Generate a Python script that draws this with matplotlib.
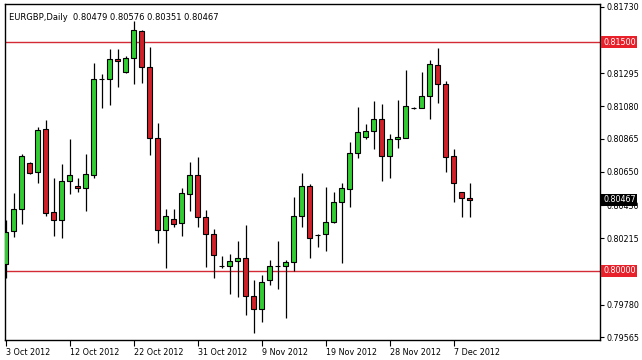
import matplotlib
matplotlib.use("Agg")
import matplotlib.pyplot as plt
import pandas as pd
import numpy as np

symbol = "EURGBP,Daily"
opens = [0.80044, 0.80260, 0.80404, 0.80709, 0.80647, 0.80930, 0.80385, 0.80332, 0.80588, 0.80557,
         0.80542, 0.80627, 0.81256, 0.81256, 0.81387, 0.81305, 0.81393, 0.81572, 0.81334, 0.80869,
         0.80267, 0.80339, 0.80313, 0.80504, 0.80627, 0.80352, 0.80240, 0.80033, 0.80035, 0.80064,
         0.80083, 0.79834, 0.79749, 0.79939, 0.80035, 0.80035, 0.80057, 0.80358, 0.80557, 0.80236,
         0.80240, 0.80319, 0.80454, 0.80535, 0.80771, 0.80876, 0.80915, 0.80998, 0.80751, 0.80863,
         0.80873, 0.81068, 0.81070, 0.81144, 0.81347, 0.81223, 0.80751, 0.80516, 0.80479]
highs = [0.80334, 0.80513, 0.80766, 0.80716, 0.80941, 0.80991, 0.80609, 0.80701, 0.80865, 0.80609,
         0.80766, 0.81364, 0.81290, 0.81452, 0.81452, 0.81408, 0.81640, 0.81580, 0.81465, 0.80968,
         0.80404, 0.80404, 0.80542, 0.80712, 0.80747, 0.80400, 0.80273, 0.80096, 0.80109, 0.80199,
         0.80299, 0.79941, 0.79974, 0.80072, 0.80197, 0.80072, 0.80485, 0.80642, 0.80570, 0.80240,
         0.80548, 0.80516, 0.80574, 0.80843, 0.81072, 0.80961, 0.81114, 0.81092, 0.80896, 0.81120,
         0.81317, 0.81072, 0.81302, 0.81382, 0.81461, 0.81243, 0.80797, 0.80520, 0.80576]
lows = [0.79954, 0.80221, 0.80308, 0.80635, 0.80578, 0.80362, 0.80231, 0.80218, 0.80506, 0.80519,
        0.80395, 0.80611, 0.81070, 0.81087, 0.81207, 0.81295, 0.81223, 0.81233, 0.80760, 0.80185,
        0.80018, 0.80290, 0.80231, 0.80395, 0.80286, 0.80026, 0.79956, 0.80018, 0.79849, 0.79832,
        0.79712, 0.79592, 0.79668, 0.79908, 0.79880, 0.79694, 0.80002, 0.80288, 0.80087, 0.80159,
        0.80133, 0.80313, 0.80054, 0.80421, 0.80738, 0.80863, 0.80801, 0.80591, 0.80611, 0.80808,
        0.80869, 0.81063, 0.81066, 0.80996, 0.81102, 0.80650, 0.80454, 0.80356, 0.80351]
closes = [0.80258, 0.80404, 0.80753, 0.80644, 0.80924, 0.80382, 0.80332, 0.80588, 0.80629, 0.80542,
          0.80633, 0.81256, 0.81256, 0.81387, 0.81374, 0.81393, 0.81579, 0.81334, 0.80869, 0.80269,
          0.80358, 0.80310, 0.80509, 0.80627, 0.80352, 0.80240, 0.80103, 0.80033, 0.80064, 0.80083,
          0.79834, 0.79749, 0.79930, 0.80035, 0.80035, 0.80057, 0.80358, 0.80557, 0.80214, 0.80236,
          0.80319, 0.80454, 0.80542, 0.80771, 0.80909, 0.80915, 0.80998, 0.80751, 0.80863, 0.80878,
          0.81083, 0.81068, 0.81144, 0.81356, 0.81223, 0.80749, 0.80574, 0.80476, 0.80467]

# bars: weekdays plus Sunday sessions
all_days = pd.date_range("2012-10-03", "2012-12-10", freq="D")
bar_dates = [d for d in all_days if d.weekday() != 5]

tick_dates = ["2012-10-03", "2012-10-12", "2012-10-22", "2012-10-31", "2012-11-09",
              "2012-11-19", "2012-11-28", "2012-12-07"]
tick_labels = ["3 Oct 2012", "12 Oct 2012", "22 Oct 2012", "31 Oct 2012", "9 Nov 2012",
               "19 Nov 2012", "28 Nov 2012", "7 Dec 2012"]

price_ticks = [0.81730, 0.81295, 0.81080, 0.80865, 0.80650, 0.80430, 0.80215, 0.79780, 0.79565]
level_lines = [0.81500, 0.80000]

GREEN = "#32CD32"
RED = "#D0202A"
LINE_RED = "#D42A36"
FS = 5.8
FONT = "DejaVu Sans"

fig = plt.figure(figsize=(6.42, 3.60), dpi=100)
W, H = 642, 360
ax = fig.add_axes([4.5 / W, 1 - 340 / H, (600 - 4.5) / W, (340 - 4) / H])

x = np.arange(len(opens))
o = np.array(opens); h = np.array(highs); l = np.array(lows); c = np.array(closes)

for lev in level_lines:
    ax.axhline(lev, color=LINE_RED, lw=1.0, zorder=1)

ax.vlines(x, l, h, color="black", lw=0.9, zorder=2)
colors = [GREEN if cc > oo else (RED if cc < oo else "black") for oo, cc in zip(o, c)]
bottoms = np.minimum(o, c)
heights = np.abs(c - o)
ax.bar(x, heights, bottom=bottoms, width=0.6, color=colors, edgecolor="black",
       linewidth=0.8, zorder=3)

ax.set_xlim(-0.125, 74.3)
ax.set_ylim(0.79548, 0.81749)

for s in ax.spines.values():
    s.set_color("black")
    s.set_linewidth(1.0)

date_strs = [d.strftime("%Y-%m-%d") for d in bar_dates]
tick_idx = [date_strs.index(t) for t in tick_dates]
ax.set_xticks(tick_idx)
ax.set_xticklabels(tick_labels, ha="left", fontsize=FS, family=FONT)
ax.tick_params(axis="x", direction="out", length=4, width=0.8, pad=2)

ax.yaxis.tick_right()
ax.set_yticks(price_ticks)
ax.set_yticklabels([f"{v:.5f}" for v in price_ticks], fontsize=FS, family=FONT)
ax.tick_params(axis="y", direction="out", length=3, width=0.8, pad=2)

# level labels
for lev in level_lines:
    ax.annotate(f"{lev:.5f}", xy=(1, lev), xycoords=("axes fraction", "data"),
                xytext=(2.2, 0), textcoords="offset points", va="center", ha="left",
                fontsize=FS, color="white", family=FONT,
                bbox=dict(boxstyle="square,pad=0.2", fc="#E8202A", ec="none"), zorder=5,
                annotation_clip=False)

last = closes[-1]
ax.annotate(f"{last:.5f}", xy=(1, last), xycoords=("axes fraction", "data"),
            xytext=(2.2, 0), textcoords="offset points", va="center", ha="left",
            fontsize=FS, color="white", family=FONT,
            bbox=dict(boxstyle="square,pad=0.2", fc="black", ec="none"), zorder=6,
            annotation_clip=False)

title = f"{symbol}  {opens[-1]:.5f} {highs[-1]:.5f} {lows[-1]:.5f} {closes[-1]:.5f}"
ax.text(0.008, 0.972, title, transform=ax.transAxes, ha="left", va="top",
        fontsize=6.0, family=FONT, color="black")

fig.savefig("out.png", dpi=100, facecolor="white")
